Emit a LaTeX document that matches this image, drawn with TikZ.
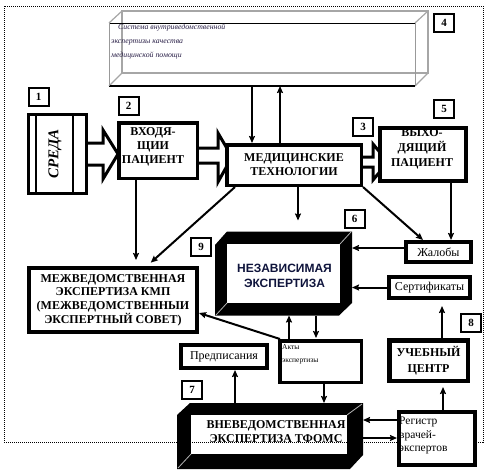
\documentclass[tikz,border=0pt]{standalone}
\usepackage{fontspec}
\setmainfont{Liberation Serif}
\newfontfamily\arialf{Liberation Sans}
\usetikzlibrary{arrows.meta,calc}
\begin{document}
\begin{tikzpicture}[x=1pt,y=-1pt,
  bx/.style={draw,fill=white,line width=#1,inner sep=0pt,align=center},
  bx/.default=4pt,
  hd/.style={font=\bfseries\fontsize{12}{14}\selectfont,align=center,inner sep=0pt},
  rg/.style={font=\fontsize{12}{13.5}\selectfont,align=center,inner sep=0pt},
  lbl/.style={draw,fill=white,line width=2pt,minimum width=20pt,minimum height=18pt,inner sep=0pt,font=\bfseries\fontsize{11}{12}\selectfont},
  arr/.style={line width=2pt,-{Stealth[length=7pt,width=6pt,inset=1pt]}},
  blk/.style={draw,fill=white,line width=3pt,line join=miter},
  bev/.style={inner sep=0pt,outer sep=0pt}
]
\useasboundingbox (0,0) rectangle (487,469);

% system box (4), a transparent prism
\node[bev,minimum width=306pt,minimum height=63pt] (sys) at (262,54.5) {};
\draw[gray!70,line width=1.2pt] (122,11) rectangle (428,73);
\draw[gray!70,line width=1.2pt] (sys.north west) -- (122,11) (sys.north east) -- (428,11)
  (sys.south west) -- (122,73) (sys.south east) -- (428,73);
\draw[line width=1pt] (sys.north west) -- (sys.north east);
\draw[line width=1.2pt] (sys.south west) -- (sys.south east);
\draw[gray!80,line width=1pt] (sys.north west) -- (sys.south west) (sys.north east) -- (sys.south east);
\node[anchor=north west,align=left,inner sep=0pt,text={rgb,255:red,40;green,30;blue,70},
  font=\itshape\fontsize{7.8}{14}\selectfont] (sysT) at (111,24)
  {\hspace{7pt}Система внутриведомственной\\экспертизы качества\\медицинской помощи};

% block arrows
\draw[blk] (88,143) -- (103,143) -- (103,130) -- (118,154) -- (103,179) -- (103,165) -- (88,165);
\draw[blk] (199,148) -- (218,148) -- (218,133) -- (232,157) -- (218,182) -- (218,163) -- (199,163);
\draw[blk] (363,157) -- (373,157) -- (373,144) -- (388,162) -- (373,180) -- (373,167) -- (363,167);

% СРЕДА
\node[bx=3pt,minimum width=58pt,minimum height=79pt] (sreda) at (57.5,154) {};
\draw[line width=2pt] (36,113) -- (36,195) (73,113) -- (73,195);
\node[rotate=90,inner sep=0pt,font=\bfseries\itshape\fontsize{15}{15}\selectfont] (sredaT) at (55,154) {СРЕДА};

% main boxes
\node[bx=3.5pt,minimum width=78.5pt,minimum height=55.5pt] (vhod) at (158,150.5) {};
\node[hd] (vhodT) at (153,146.5) {ВХОДЯ-\\ЩИИ\\ПАЦИЕНТ};
\node[bx=3.5pt,minimum width=134.5pt,minimum height=40.5pt,hd] (med) at (294,165) {МЕДИЦИНСКИЕ\\ТЕХНОЛОГИИ};
\node[bx=4pt,minimum width=86pt,minimum height=53pt] (vyhod) at (423,154.5) {};
\node[hd,font=\bfseries\fontsize{12}{15}\selectfont] (vyhodT) at (422,149) {ВЫХО-\\ДЯЩИЙ\\ПАЦИЕНТ};
\node[bx=4pt,minimum width=65pt,minimum height=20pt,rg] (zhal) at (438.5,252) {Жалобы};
\node[bx=4pt,minimum width=81pt,minimum height=21pt,rg] (sert) at (429.5,287.5) {Сертификаты};
\node[bx=4pt,minimum width=168pt,minimum height=64pt,hd,font=\bfseries\fontsize{12}{13.7}\selectfont] (mezh) at (113,300)
  {МЕЖВЕДОМСТВЕННАЯ\\ЭКСПЕРТИЗА КМП\\(МЕЖВЕДОМСТВЕННЫИ\\ЭКСПЕРТНЫЙ СОВЕТ)};

% independent expertise (bevelled frame)
\node[bev,minimum width=137pt,minimum height=84pt] (nez) at (283.5,273.5) {};
\fill (227,231.5) -- (352,231.5) -- (352,303) -- (339,315.5) -- (215,315.5) -- (215,245) -- cycle;
\fill[white] (227,244) rectangle (340,303);
\draw[gray!60,line width=0.8pt] (340,244) -- (351,232) (227,303) -- (216,315);
\node[inner sep=0pt,align=center,font=\arialf\bfseries\fontsize{12}{15}\selectfont,text={rgb,255:red,15;green,20;blue,60}] (nezT) at (284.5,275.5) {НЕЗАВИСИМАЯ\\ЭКСПЕРТИЗА};

\node[bx=3.5pt,minimum width=81.5pt,minimum height=41.5pt] (akty) at (320.5,361.5) {};
\node[anchor=north west,align=left,inner sep=0pt,font=\fontsize{7.5}{13}\selectfont] (aktyT) at (282,344) {Акты\\экспертизы};
\node[bx=4pt,minimum width=86pt,minimum height=23pt,rg] (predp) at (224,356.5) {Предписания};
\node[bx=4.5pt,minimum width=78.5pt,minimum height=40.5pt,hd,font=\bfseries\fontsize{12}{16}\selectfont] (ucheb) at (428.5,360.5) {УЧЕБНЫЙ\\ЦЕНТР};

% extra-departmental expertise (bevelled frame)
\node[bev,minimum width=186pt,minimum height=66pt] (tfoms) at (270,436) {};
\fill (190,403) -- (363,403) -- (363,455) -- (350,469) -- (177,469) -- (177,415) -- cycle;
\fill[white] (191,415) rectangle (347,454);
\draw[gray!60,line width=0.8pt] (347,415) -- (362,404) (191,454) -- (178,468);
\node[hd,font=\bfseries\fontsize{12}{14}\selectfont] (tfomsT) at (276,432) {ВНЕВЕДОМСТВЕННАЯ\\ЭКСПЕРТИЗА ТФОМС};

% dotted frame
\draw[line width=1pt,dash pattern=on 1pt off 1pt] (4,6) rectangle (483,442);

\node[bx=4pt,minimum width=76pt,minimum height=53pt] (registr) at (437,438.5) {};
\node[anchor=north west,align=left,inner sep=0pt,font=\fontsize{11.5}{13.5}\selectfont] (registrT) at (399,417) {Регистр\\врачей-\\экспертов};

% connectors
\draw[arr] ([xshift=-10pt]sys.south) -- ([xshift=-42pt]med.north);
\draw[arr] ([xshift=-14pt]med.north) -- ([xshift=18pt]sys.south);
\draw[arr,shorten >=6pt] ([xshift=-22pt]vhod.south) -- ([xshift=23pt]mezh.north);
\draw[arr,shorten >=5pt] ([xshift=10pt]med.south west) -- ([xshift=120pt]mezh.north west);
\draw[arr,shorten >=11pt] ([xshift=4pt]med.south) -- ([xshift=14.5pt]nez.north);
\draw[arr] (med.south east) -- ([xshift=19pt]zhal.north west);
\draw[arr] ([xshift=28pt]vyhod.south) -- ([xshift=12.5pt]zhal.north);
\draw[arr] ([yshift=4pt]zhal.west) -- ([yshift=25.5pt]nez.east);
\draw[arr] (sert.west) -- ([yshift=-14pt]nez.east);
\draw[arr] ([xshift=-31.5pt]akty.north) -- ([xshift=5.5pt]nez.south);
\draw[arr,shorten >=1pt] ([xshift=32.5pt]nez.south) -- ([xshift=-4.5pt]akty.north);
\draw[arr] ([xshift=2pt]akty.north west) -- ([yshift=-13pt]mezh.east);
\draw[arr] ([xshift=-35pt]tfoms.north) -- ([xshift=11pt]predp.south);
\draw[arr] ([xshift=3.5pt]akty.south) -- ([xshift=54pt]tfoms.north);
\draw[arr] ([yshift=18.5pt]registr.west) -- ([yshift=16pt]tfoms.east);
\draw[arr] ([yshift=-2pt]tfoms.east) -- ([yshift=0.5pt]registr.west);
\draw[arr,shorten >=4pt] ([xshift=6pt]registr.north) -- ([xshift=14.5pt]ucheb.south);
\draw[arr,shorten >=6pt] ([xshift=13.5pt]ucheb.north) -- ([xshift=12.5pt]sert.south);

% number labels
\node[lbl] (n1) at (38.5,96.5) {1};
\node[lbl] (n2) at (128.5,106) {2};
\node[lbl] (n3) at (363,126.5) {3};
\node[lbl] (n4) at (444,22.5) {4};
\node[lbl] (n5) at (444,108.5) {5};
\node[lbl] (n6) at (354.5,219) {6};
\node[lbl] (n7) at (192,390) {7};
\node[lbl] (n8) at (471,323) {8};
\node[lbl] (n9) at (201,246.5) {9};
\end{tikzpicture}
\end{document}
